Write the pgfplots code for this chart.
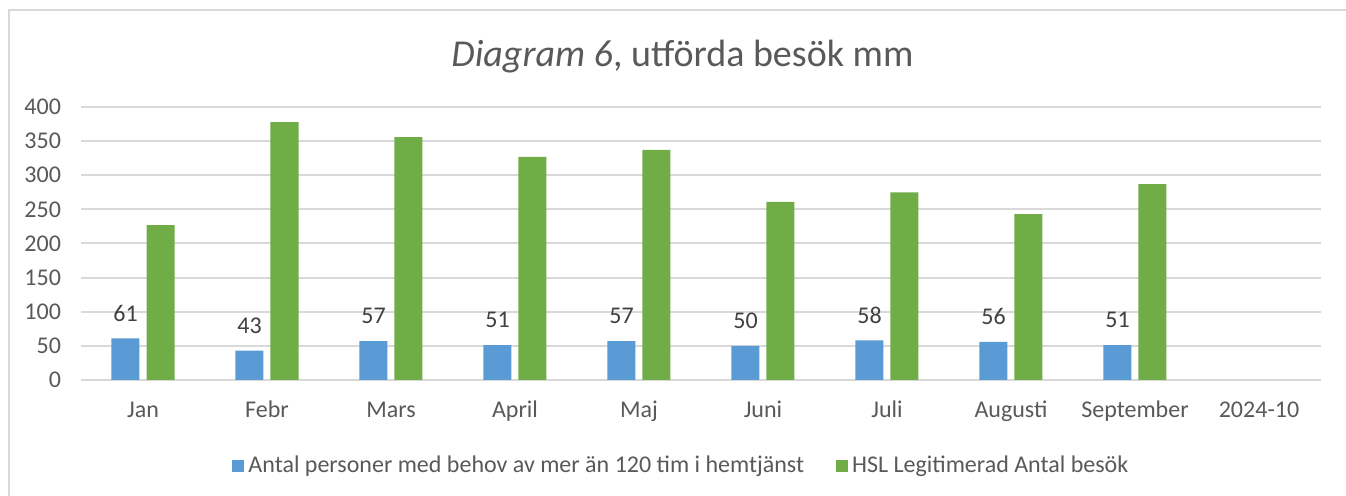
\documentclass[border=0pt]{standalone}
\usepackage{fontspec}
\setmainfont{Carlito}
\usepackage{pgfplots}
\pgfplotsset{compat=1.18}
\definecolor{blueA}{HTML}{5B9BD5}
\definecolor{greenA}{HTML}{70AD47}
\definecolor{gridc}{HTML}{D9D9D9}
\definecolor{txt}{HTML}{595959}
\definecolor{lbl}{HTML}{404040}
\begin{document}
\begin{tikzpicture}[x=1pt,y=1pt]
\fill[white] (-40.5,-58) rectangle (632.5,190);
\useasboundingbox (-40.5,-58) rectangle (632.5,190);
\draw[gridc, line width=1pt] (-36,-58) -- (-36,185) -- (632.5,185);
\begin{axis}[
    at={(0,0)}, anchor=south west,
    scale only axis,
    width=620pt, height=136.5pt,
    ybar=3.5pt, bar width=14pt,
    xmin=-0.5, xmax=9.5,
    ymin=0, ymax=400,
    xtick={0,...,9},
    xticklabels={Jan,Febr,Mars,April,Maj,Juni,Juli,Augusti,September,2024-10},
    ytick={0,50,...,400},
    major tick length=0pt,
    axis line style={draw=none},
    ymajorgrids=true,
    grid style={gridc, line width=1pt},
    tick label style={font=\fontsize{12}{14}\selectfont, text=txt},
    /pgf/number format/assume math mode=true,
    xticklabel style={anchor=base, yshift=-19pt},
    yticklabel style={anchor=east, xshift=-6.5pt},
    title={\textit{Diagram 6}, utförda besök mm},
    title style={at={(0.485,1.14)}, anchor=center, font=\fontsize{19}{22}\selectfont, text=txt},
    legend columns=2,
    legend style={at={(0.485,-0.315)}, anchor=center, draw=none,
        font=\fontsize{12}{14}\selectfont, text=txt,
        /tikz/every even column/.append style={column sep=14pt}},
    legend image code/.code={\fill[#1] (0pt,-3pt) rectangle (6pt,3pt);},
]
\addplot[fill=blueA, draw=none,
    nodes near coords,
    every node near coord/.append style={font=\fontsize{12}{14}\selectfont, text=lbl, yshift=5pt}]
    coordinates {(0,61)(1,43)(2,57)(3,51)(4,57)(5,50)(6,58)(7,56)(8,51)};
\addlegendentry{Antal personer med behov av mer än 120 tim i hemtjänst}
\addplot[fill=greenA, draw=none]
    coordinates {(0,227)(1,378)(2,356)(3,327)(4,337)(5,261)(6,275)(7,243)(8,287)};
\addlegendentry{HSL Legitimerad Antal besök}
\end{axis}
\end{tikzpicture}
\end{document}
